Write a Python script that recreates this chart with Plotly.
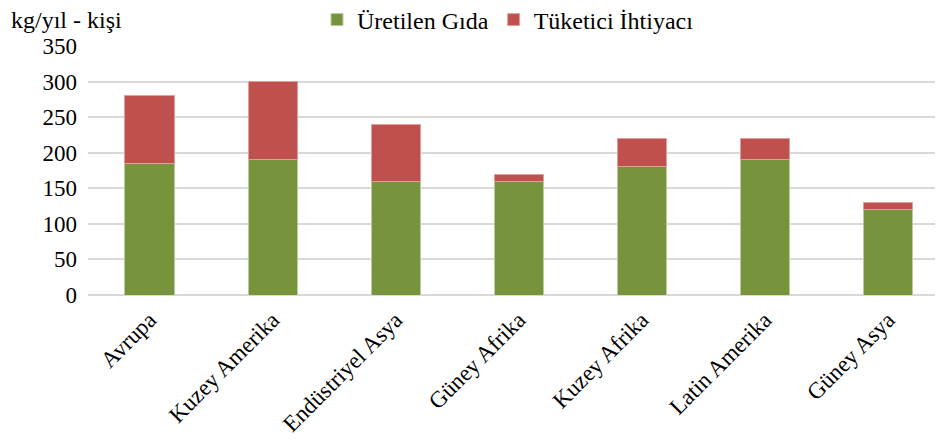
import plotly.graph_objects as go

categories = ["Avrupa", "Kuzey Amerika", "Endüstriyel Asya", "Güney Afrika",
              "Kuzey Afrika", "Latin Amerika", "Güney Asya"]
uretilen_gida = [185, 190, 160, 160, 180, 190, 120]
tuketici_ihtiyaci = [95, 110, 80, 10, 40, 30, 10]
y_ticks = [0, 50, 100, 150, 200, 250, 300, 350]

FONT = "Liberation Serif"

W, H = 935, 438
L, T, B = 80, 38, 151
PW, PH = W - L, H - T - B

fig = go.Figure()
fig.add_trace(go.Bar(x=categories, y=uretilen_gida, name="Üretilen Gıda",
                     marker=dict(color="#77933C", line=dict(color="#B9CBA0", width=1)),
                     width=0.4))
fig.add_trace(go.Bar(x=categories, y=tuketici_ihtiyaci, name="Tüketici İhtiyacı",
                     marker=dict(color="#C0504D", line=dict(color="#E0A09E", width=1)),
                     width=0.4))

fig.update_layout(
    barmode="stack",
    width=W, height=H,
    margin=dict(l=L, r=0, t=T, b=B, autoexpand=False),
    plot_bgcolor="white", paper_bgcolor="white",
    font=dict(family=FONT, size=23, color="black"),
    legend=dict(orientation="h", x=(309 - L) / PW, y=1 + (T - 12) / PH,
                xanchor="left", yanchor="middle", font=dict(family=FONT, size=24),
                traceorder="normal", itemwidth=30, bgcolor="rgba(0,0,0,0)"),
    showlegend=True,
    annotations=[dict(text="kg/yıl - kişi", x=(1 - L) / PW, y=1 + (T - 12) / PH,
                      xref="paper", yref="paper", showarrow=False,
                      font=dict(family=FONT, size=24), xanchor="left", yanchor="middle")],
)
fig.update_xaxes(range=[-0.5, 6.447], tickangle=-45, showgrid=False, showline=False,
                 ticks="", tickfont=dict(family=FONT, size=23), automargin=False,
                 ticklabelstandoff=6)
fig.update_yaxes(range=[0, 350], tickvals=y_ticks, showgrid=True, gridcolor="#D9D9D9",
                 gridwidth=1.5, zeroline=True, zerolinecolor="#D9D9D9", zerolinewidth=1.5,
                 ticks="", tickfont=dict(family=FONT, size=23), ticklabelstandoff=10,
                 automargin=False)

fig.write_html("out.html")
